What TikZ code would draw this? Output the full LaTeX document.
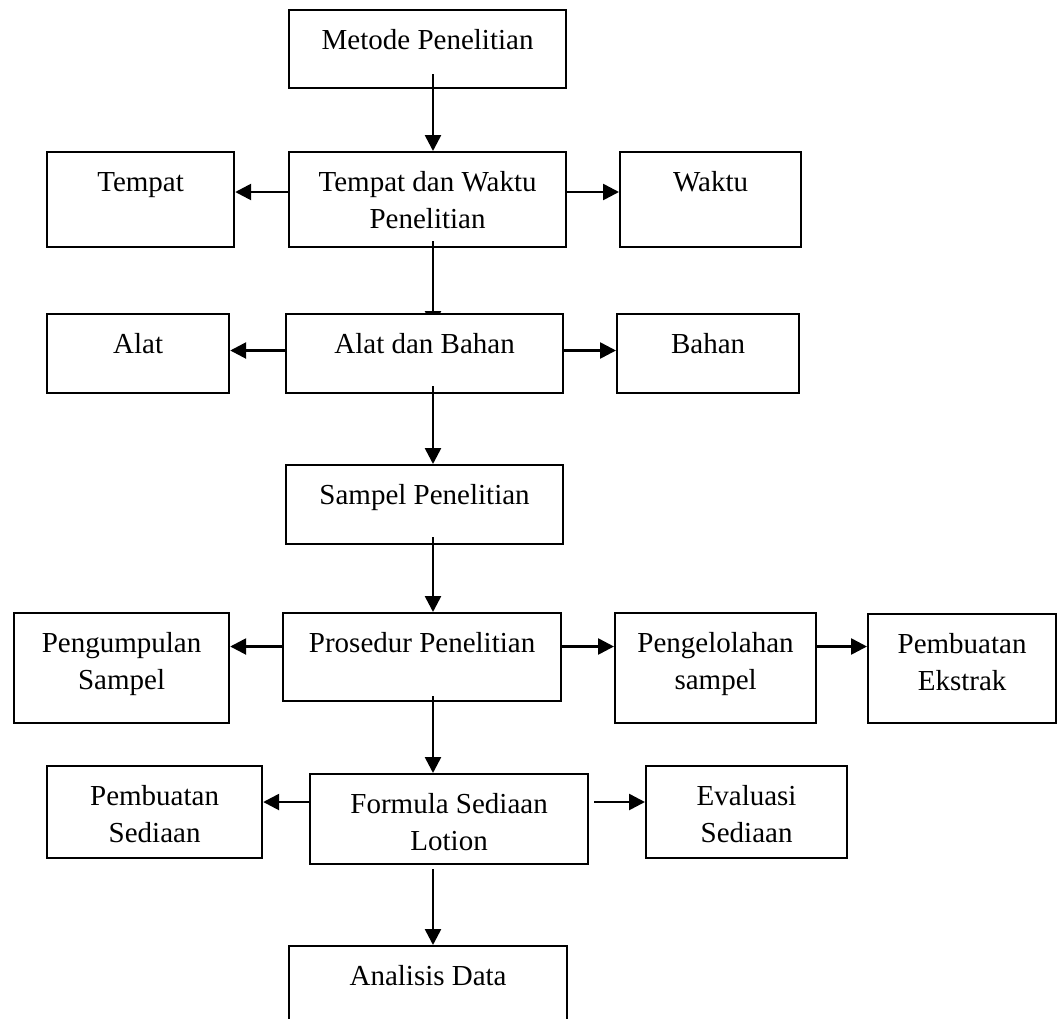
\documentclass[tikz,border=0pt]{standalone}
\usepackage{fontspec}
\setmainfont{Liberation Serif}
\usetikzlibrary{arrows.meta,backgrounds,calc}
\newcommand\bt[3]{\parbox[t][#2pt][t]{#1pt}{\centering\vspace*{13pt}\strut #3}}
\begin{document}
\begin{tikzpicture}[x=1pt,y=-1pt,
  box/.style={draw, line width=2.2pt, fill=white, inner sep=0pt, anchor=north west,
    font=\fontsize{29}{37}\selectfont},
  arr/.style={line width=2.6pt, -{Triangle[length=16pt,width=16pt]}},
  ]
\useasboundingbox (0,0) rectangle (1060,1018);
\clip (0,0) rectangle (1060,1018);

\node[box] (metode) at (288,9) {\bt{277}{78}{Metode Penelitian}};
\node[box] (tdw) at (288,151) {\bt{277}{95}{Tempat dan Waktu\\Penelitian}};
\node[box] (tempat) at (46,151) {\bt{187}{95}{Tempat}};
\node[box] (waktu) at (619,151) {\bt{181}{95}{Waktu}};
\node[box] (adb) at (285,313) {\bt{277}{79}{Alat dan Bahan}};
\node[box] (alat) at (46,313) {\bt{182}{79}{Alat}};
\node[box] (bahan) at (616,313) {\bt{182}{79}{Bahan}};
\node[box] (sampel) at (285,464) {\bt{277}{79}{Sampel Penelitian}};
\node[box] (prosedur) at (282,612) {\bt{278}{88}{Prosedur Penelitian}};
\node[box] (pengumpulan) at (13,612) {\bt{215}{110}{Pengumpulan\\Sampel}};
\node[box] (pengelolahan) at (614,612) {\bt{201}{110}{Pengelolahan\\sampel}};
\node[box] (ekstrak) at (867,613) {\bt{188}{109}{Pembuatan\\Ekstrak}};
\node[box] (formula) at (309,773) {\bt{278}{90}{Formula Sediaan\\Lotion}};
\node[box] (sediaan) at (46,765) {\bt{215}{92}{Pembuatan\\Sediaan}};
\node[box] (evaluasi) at (645,765) {\bt{201}{92}{Evaluasi\\Sediaan}};
\node[box] (analisis) at (288,945) {\bt{278}{100}{Analisis Data}};

\coordinate (spine) at (433,0);
\coordinate (r1) at (0,192);
\coordinate (r2) at (0,350.5);
\coordinate (r3) at (0,646.5);
\coordinate (r4) at (0,802);

% vertical spine
\draw[arr, shorten <=-15pt] (metode.south -| spine) -- (tdw.north -| spine);
\begin{scope}[on background layer]
\fill[white] (0,0) rectangle (1060,1018);
\draw[arr, shorten >=-14pt] (tdw.south -| spine) -- (adb.north -| spine);
\end{scope}
\draw[line width=2.6pt, shorten <=-7pt] (tdw.south -| spine) -- ($(tdw.south -| spine)+(0,2)$);
\draw[arr, shorten <=-8pt] (adb.south -| spine) -- (sampel.north -| spine);
\draw[arr, shorten <=-8pt] (sampel.south -| spine) -- (prosedur.north -| spine);
\draw[arr, shorten <=-6pt] (prosedur.south -| spine) -- (formula.north -| spine);
\draw[arr, shorten <=4pt] (formula.south -| spine) -- (analisis.north -| spine);

% side branches
\draw[arr] (tdw.west |- r1) -- (tempat.east |- r1);
\draw[arr] (tdw.east |- r1) -- (waktu.west |- r1);
\draw[arr] (adb.west |- r2) -- (alat.east |- r2);
\draw[arr] (adb.east |- r2) -- (bahan.west |- r2);
\draw[arr] (prosedur.west |- r3) -- (pengumpulan.east |- r3);
\draw[arr] (prosedur.east |- r3) -- (pengelolahan.west |- r3);
\draw[arr] (pengelolahan.east |- r3) -- (ekstrak.west |- r3);
\draw[arr] (formula.west |- r4) -- (sediaan.east |- r4);
\draw[arr, shorten <=5pt] (formula.east |- r4) -- (evaluasi.west |- r4);
\end{tikzpicture}
\end{document}
